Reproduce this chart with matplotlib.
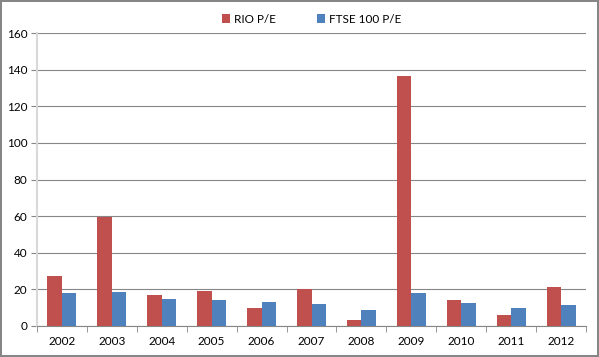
import matplotlib.pyplot as plt
import numpy as np

years = ["2002", "2003", "2004", "2005", "2006", "2007",
         "2008", "2009", "2010", "2011", "2012"]
rio_pe = [27.5, 59.5, 16.7, 19.3, 10.0, 20.3, 3.5, 136.6, 14.4, 6.0, 21.5]
ftse_pe = [18.0, 18.5, 14.7, 14.0, 13.3, 12.0, 9.0, 18.0, 12.3, 10.0, 11.3]

plt.rcParams['font.family'] = ['Lato', 'DejaVu Sans']

fig = plt.figure(figsize=(5.99, 3.57), dpi=100)
fig.patch.set_edgecolor("#868686")
fig.patch.set_linewidth(1.5)
ax = fig.add_axes([37 / 599, 1 - 326 / 357, 549 / 599, 293 / 357])

x = np.arange(len(years))
w = 0.29
ax.bar(x - w / 2, rio_pe, w, color="#C0504D", label="RIO P/E", zorder=3)
ax.bar(x + w / 2, ftse_pe, w, color="#4F81BD", label="FTSE 100 P/E", zorder=3)

ax.set_xlim(-0.5, len(years) - 0.5)
ax.set_ylim(0, 160)
ax.set_yticks(range(0, 161, 20))
ax.yaxis.grid(True, color="#868686", linewidth=0.8, zorder=0)

ax.set_xticks(x)
ax.set_xticklabels(years, fontsize=8.5)
ax.set_xticks(np.arange(-0.5, len(years)), minor=True)
ax.tick_params(axis="x", which="major", length=0, pad=7)
ax.tick_params(axis="x", which="minor", length=4, color="#868686")
ax.tick_params(axis="y", length=4, color="#868686", labelsize=8.5, pad=3)

for s in ["top", "right"]:
    ax.spines[s].set_visible(False)
ax.spines["left"].set_color("#D9D9D9")
ax.spines["left"].set_linewidth(1.5)
ax.spines["bottom"].set_color("#868686")

ax.legend(loc="lower center", bbox_to_anchor=(0.5, 1.0), ncol=2, frameon=False,
          fontsize=8.5, handlelength=0.7, handleheight=0.7, handletextpad=0.3,
          columnspacing=3.5, borderaxespad=0.3)

fig.savefig("out.png", dpi=100, edgecolor=fig.get_edgecolor())
